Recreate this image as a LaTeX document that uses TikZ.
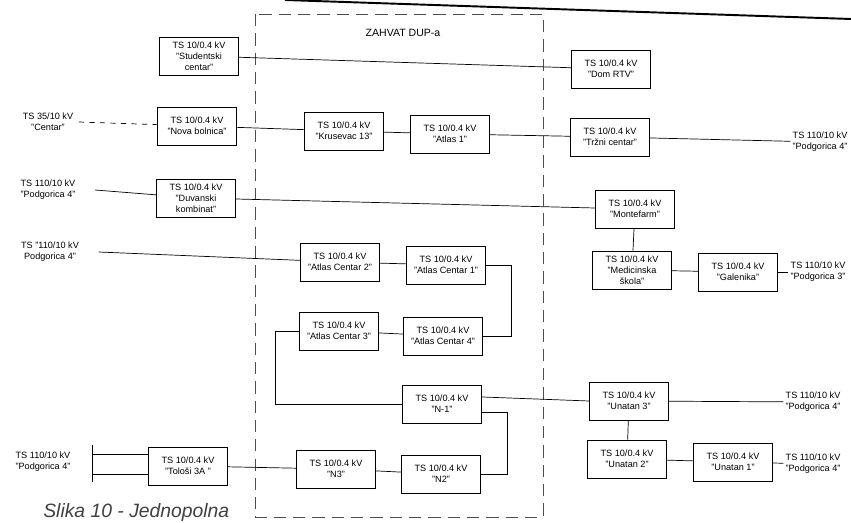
\documentclass[tikz,border=0pt]{standalone}
\usepackage{fontspec}
\setmainfont{Liberation Sans}

\begin{document}
\begin{tikzpicture}[x=0.02cm, y=-0.02cm,
	ts/.style={draw, thin, minimum width=1.58cm, minimum height=0.76cm, align=center, inner sep=1pt, font=\fontsize{5.2}{6.2}\selectfont},
	lbl/.style={align=center, inner sep=1pt, font=\fontsize{5.2}{6.2}\selectfont},
	zone/.style={draw=black!70, dash pattern=on 7pt off 4pt}]
	\useasboundingbox (0,0) rectangle (851,523);
	\draw[line width=1.1pt] (285,0) -- (851,19);

	\draw[zone] (255,14) rectangle (543,517);
	\node at (403,33) [lbl, font=\fontsize{6}{7}\selectfont] (zona) {ZAHVAT DUP-a};

	\node at (199,56) [ts] (stud) {TS 10/0.4 kV\\"Studentski\\centar"};
	\node at (611,69) [ts] (rtv) {TS 10/0.4 kV\\"Dom RTV"};
	\node at (197,126) [ts] (nb) {TS 10/0.4 kV\\"Nova bolnica"};
	\node at (344,131) [ts] (kr) {TS 10/0.4 kV\\"Krusevac 13"};
	\node at (450,134) [ts] (at1) {TS 10/0.4 kV\\"Atlas 1"};
	\node at (610,137) [ts] (trz) {TS 10/0.4 kV\\"Tržni centar"};
	\node at (196,198) [ts] (duv) {TS 10/0.4 kV\\"Duvanski\\kombinat"};
	\node at (635,209) [ts] (mf) {TS 10/0.4 kV\\"Montefarm"};
	\node at (632,270) [ts] (med) {TS 10/0.4 kV\\"Medicinska\\škola"};
	\node at (738,272) [ts] (gal) {TS 10/0.4 kV\\"Galenika"};
	\node at (340,262) [ts] (ac2) {TS 10/0.4 kV\\"Atlas Centar 2"};
	\node at (446,265) [ts] (ac1) {TS 10/0.4 kV\\"Atlas Centar 1"};
	\node at (339,331) [ts] (ac3) {TS 10/0.4 kV\\"Atlas Centar 3"};
	\node at (443,336) [ts] (ac4) {TS 10/0.4 kV\\"Atlas Centar 4"};
	\node at (442,404) [ts] (n1) {TS 10/0.4 kV\\"N-1"};
	\node at (336,469) [ts] (n3) {TS 10/0.4 kV\\"N3"};
	\node at (441,474) [ts] (n2) {TS 10/0.4 kV\\"N2"};
	\node at (188,466) [ts] (tol) {TS 10/0.4 kV\\"Tološi 3A "};
	\node at (629,401) [ts] (un3) {TS 10/0.4 kV\\"Unatan 3"};
	\node at (627,459) [ts] (un2) {TS 10/0.4 kV\\"Unatan 2"};
	\node at (733,462) [ts] (un1) {TS 10/0.4 kV\\"Unatan 1"};

	% napojne TS 110/10 i 35/10
	\node at (48,122) [lbl] (cen) {TS 35/10 kV\\"Centar"};
	\node at (48,190) [lbl] (pg1) {TS 110/10 kV\\"Podgorica 4"};
	\node at (50,252) [lbl] (pg2) {TS "110/10 kV\\Podgorica 4"};
	\node at (43,462) [lbl] (pg3) {TS 110/10 kV\\"Podgorica 4"};
	\node at (820,142) [lbl] (pg4) {TS 110/10 kV\\"Podgorica 4"};
	\node at (818,272) [lbl] (pg5) {TS 110/10 kV\\"Podgorica 3"};
	\node at (813,402) [lbl] (pg6) {TS 110/10 kV\\"Podgorica 4"};
	\node at (813,464) [lbl] (pg7) {TS 110/10 kV\\"Podgorica 4"};

	\draw (stud) -- (rtv);
	\draw [dashed] ([xshift=2pt]cen.east) -- (nb);
	\draw (nb) -- (kr);
	\draw (kr) -- (at1);
	\draw (at1) -- (trz);
	\draw (trz) -- (pg4);
	\draw ([xshift=10pt]pg1.east) -- (duv);
	\draw (duv) -- (mf);
	\draw (mf) -- (med);
	\draw (med) -- (gal);
	\draw (gal) -- (pg5);
	\draw ([xshift=10pt]pg2.east) -- (ac2);
	\draw (ac2) -- (ac1);
	\draw (ac1.east) -- ++(25,0) |- (ac4.east);
	\draw (ac4) -- (ac3);
	\draw (ac3.west) -- ++(-24,0) |- (n1.west);
	\draw ([yshift=4pt]n1.east) -- (un3.west);
	\draw ([yshift=-5pt]n1.east) -- ++(25,0) |- (n2.east);
	\draw (n2) -- (n3);
	\draw (n3) -- (tol);
	\draw (un3) -- (un2);
	\draw (un2) -- (un1);
	\draw (un3) -- (pg6);
	\draw (un1) -- (pg7);

	\coordinate (s1) at (92,454);
	\coordinate (s2) at (92,474);
	\draw (92,445) -- (92,482);
	\draw (s1) -- (s1 -| tol.west);
	\draw (s2) -- (s2 -| tol.west);

	\node at (43,517) [anchor=base west, inner sep=0pt, font=\itshape\fontsize{11}{13}\selectfont, text=black!75] (slika) {Slika 10 - Jednopolna};
\end{tikzpicture}
\end{document}
